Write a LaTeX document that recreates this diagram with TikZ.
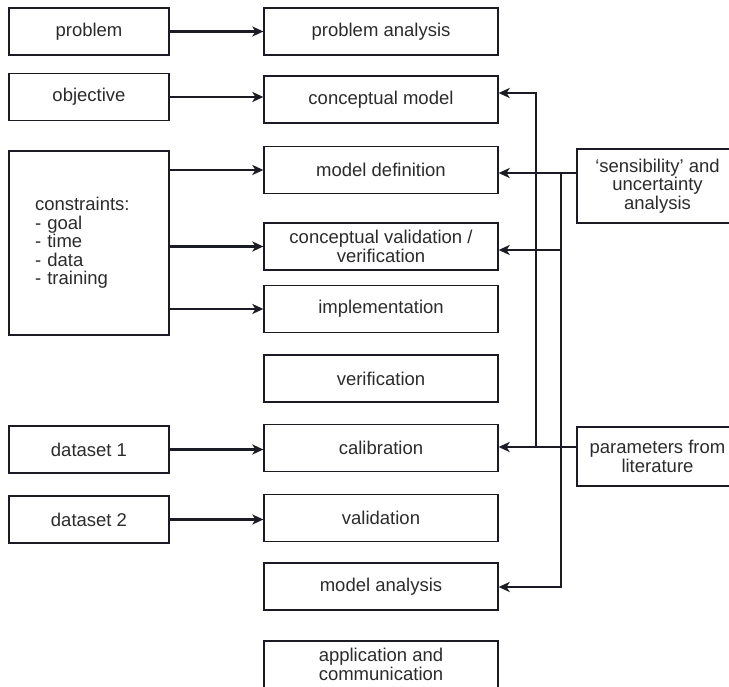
\documentclass[tikz,border=0pt]{standalone}
\usepackage{fontspec}
\setmainfont{Liberation Sans}
\usetikzlibrary{arrows.meta}
\definecolor{linec}{HTML}{1B1B25}
\definecolor{txtc}{HTML}{2B2B2B}
\begin{document}
\begin{tikzpicture}[x=1pt,y=-1pt,
  box/.style={draw=linec, line width=1.3pt, rectangle, minimum height=47pt, align=center, inner sep=2pt, text=txtc, font=\fontsize{18.5}{18.5}\selectfont},
  lbox/.style={box, minimum width=160pt},
  mbox/.style={box, minimum width=234pt},
  rbox/.style={box, minimum width=161pt},
  arr/.style={draw=linec, line width=2.6pt, -{Stealth[length=11pt,width=10pt,inset=3pt]}}]
\useasboundingbox (0,0) rectangle (729,687);

% left column
\node[lbox] (prob) at (89,31.5) {problem};
\node[lbox] (obj) at (89,97) {objective};
\node[lbox, minimum height=184pt, text width=108pt, inner xsep=26pt, align=left] (cons) at (89,243) {constraints:\\- goal\\- time\\- data\\- training};
\node[lbox] (ds1) at (89,449.5) {dataset 1};
\node[lbox] (ds2) at (89,519.5) {dataset 2};

% middle column
\node[mbox] (pa) at (381,31.5) {problem analysis};
\node[mbox] (cm) at (381,99.5) {conceptual model};
\node[mbox] (md) at (381,170) {model definition};
\node[mbox] (cv) at (381,246.5) {conceptual validation /\\verification};
\node[mbox] (impl) at (381,309) {implementation};
\node[mbox] (ver) at (381,378.5) {verification};
\node[mbox] (cal) at (381,448) {calibration};
\node[mbox] (val) at (381,518) {validation};
\node[mbox] (ma) at (381,586.5) {model analysis};
\node[mbox] (app) at (381,664.5) {application and\\communication};

% right column
\node[rbox, minimum height=74pt] (sens) at (657.5,186) {‘sensibility’ and\\uncertainty\\analysis};
\node[rbox, minimum height=59pt] (par) at (657.5,456.5) {parameters from\\literature};

% left arrows
\draw[arr] (prob.east) -- (pa.west);
\draw[arr] (obj.east) -- (cm.west |- obj.east);
\draw[arr] (cons.east |- md.west) -- (md.west);
\draw[arr] (cons.east |- cv.west) -- (cv.west);
\draw[arr] (cons.east |- impl.west) -- (impl.west);
\draw[arr] (ds1.east) -- (cal.west |- ds1.east);
\draw[arr] (ds2.east) -- (val.west |- ds2.east);

% right connectors
\coordinate (a1) at (536,93);
\coordinate (a2) at (536,447);
\coordinate (b1) at (561,173);
\coordinate (b2) at (561,587);
\coordinate (b3) at (561,250);
\draw[arr] (a2) -- (a1) -- (cm.east |- a1);
\draw[arr] (sens.west |- b1) -- (md.east |- b1);
\draw[arr] (b1) -- (b2) -- (ma.east |- b2);
\draw[arr] (b3) -- (cv.east |- b3);
\draw[arr] (par.west |- a2) -- (cal.east |- a2);
\end{tikzpicture}
\end{document}
